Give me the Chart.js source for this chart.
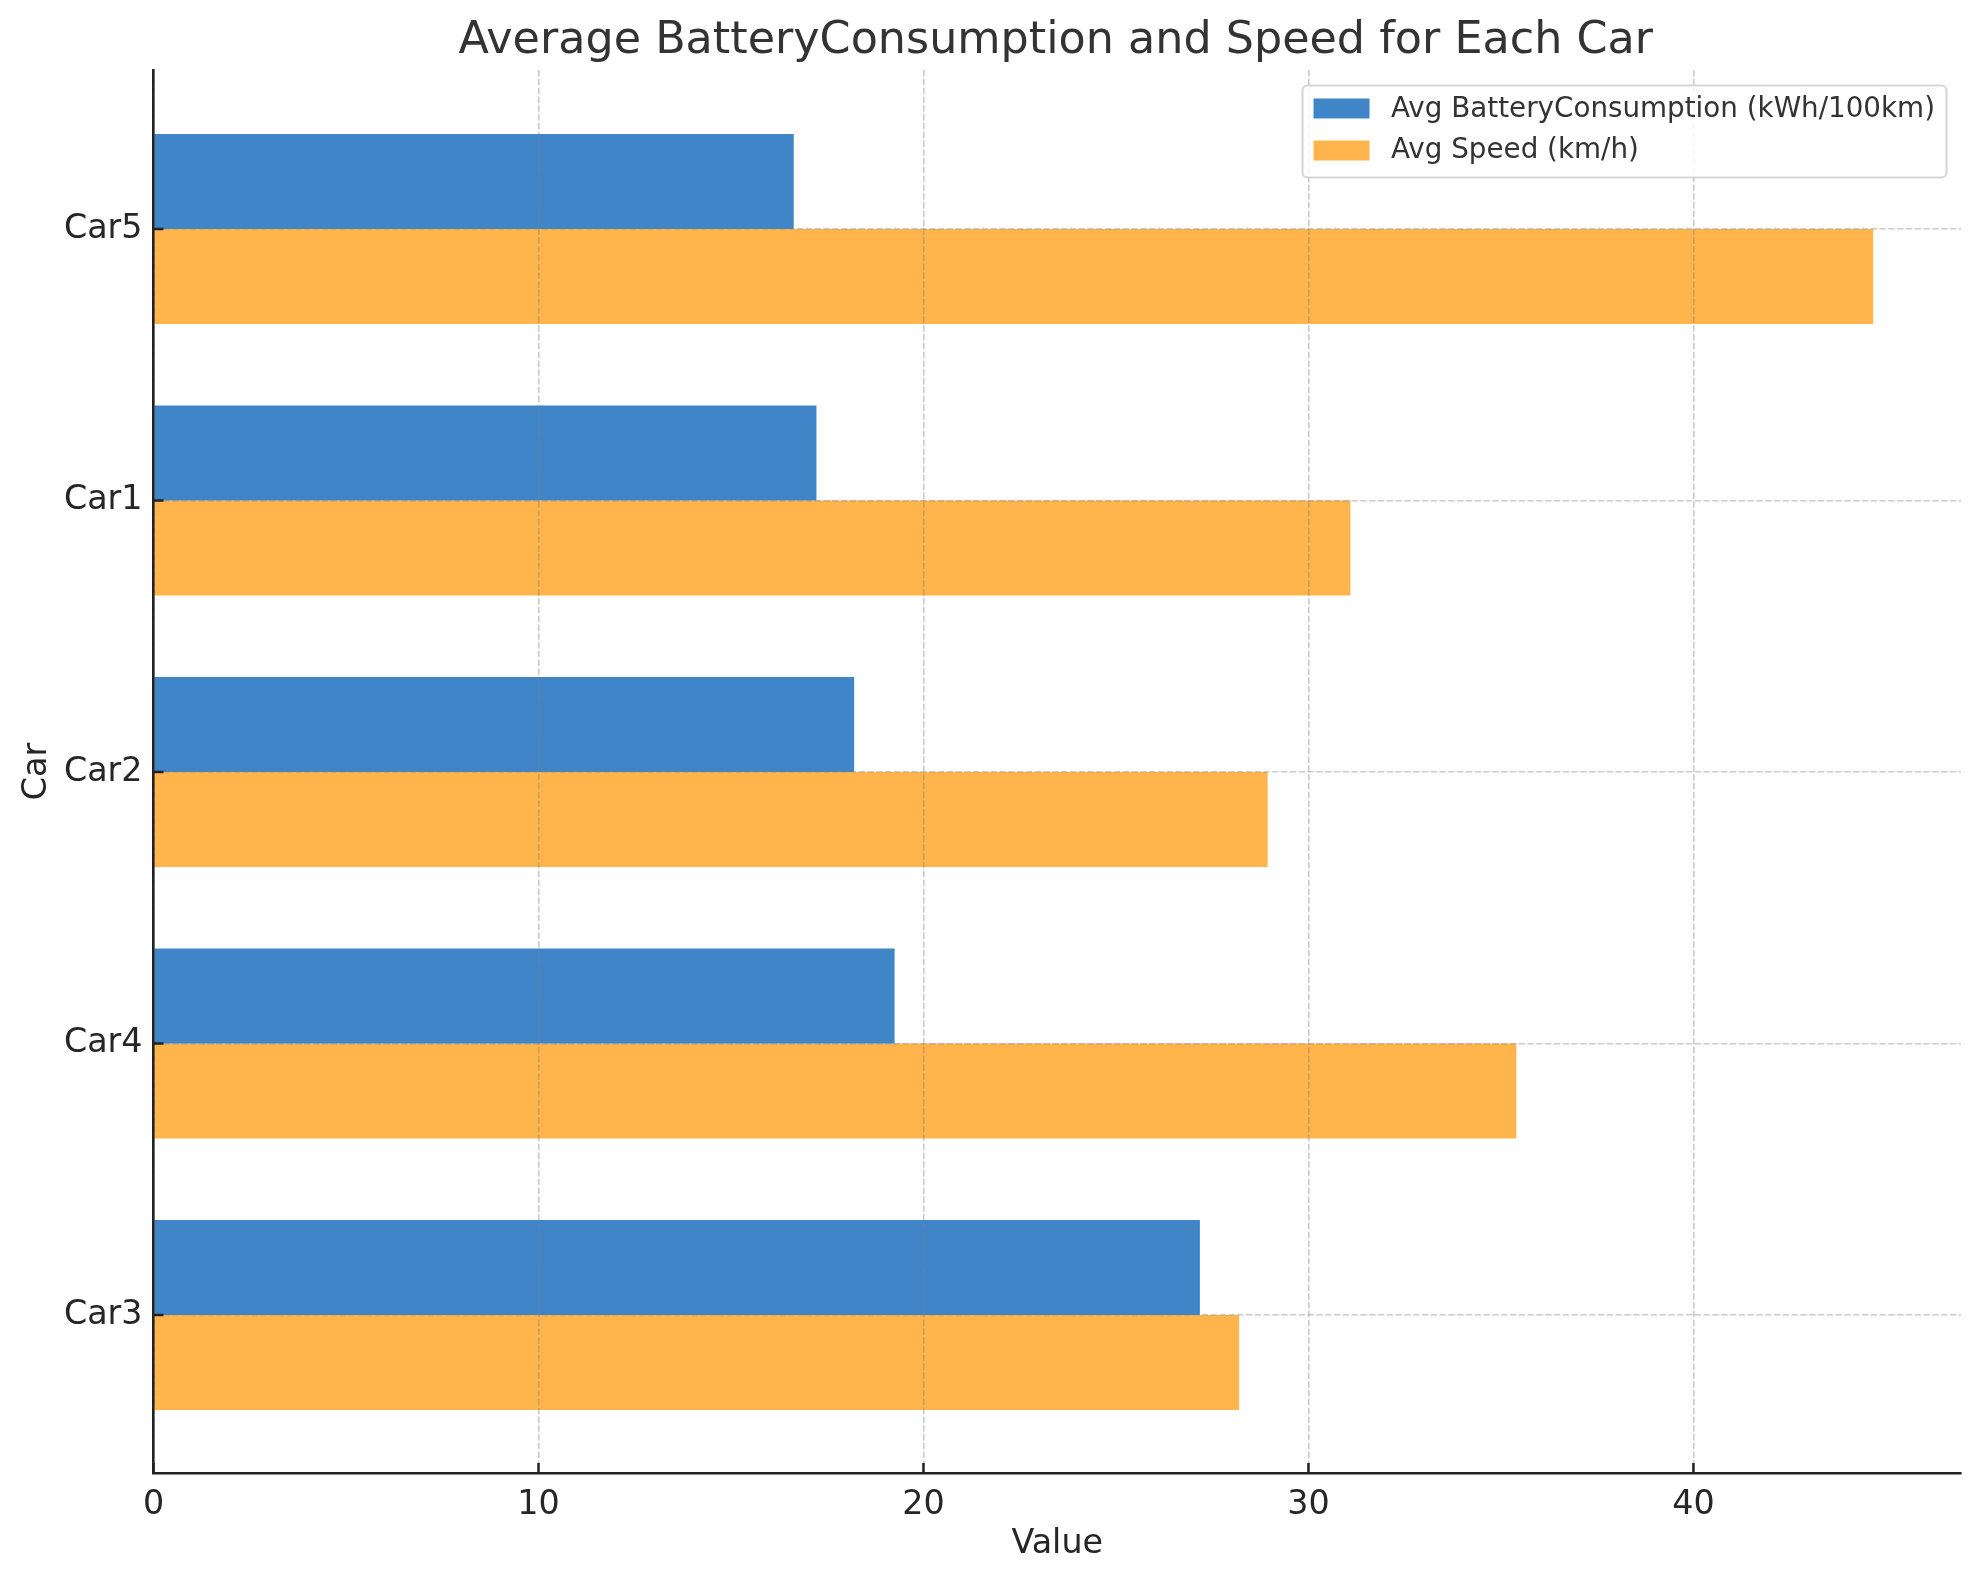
<!DOCTYPE html>
<html>
<head>
<meta charset="utf-8">
<style>html,body{margin:0;padding:0;background:#fff}canvas{display:block}</style>
<script src="https://cdn.jsdelivr.net/npm/chart.js@4"></script>
</head>
<body>
<canvas id="c" width="1979" height="1580" style="width:1979px;height:1580px"></canvas>
<script>
const categories = ['Car5', 'Car1', 'Car2', 'Car4', 'Car3'];
const batteryValues = [16.63, 17.22, 18.2, 19.25, 27.18];
const speedValues = [44.67, 31.09, 28.94, 35.4, 28.2];
const seriesNames = ['Avg BatteryConsumption (kWh/100km)', 'Avg Speed (km/h)'];
const xTicks = [0, 10, 20, 30, 40];
const titleText = 'Average BatteryConsumption and Speed for Each Car';

const FONT = '"DejaVu Sans"';
const BLUE = '#3F85C8', ORANGE = '#FFB54C', SPINE = '#222222', INK = '#262626', SOFT = '#333333';
const GRID = 'rgba(128,128,128,0.4)';
const toPoints = vals => vals.map((v, i) => ({x: v, y: i}));

const frame = {
  id: 'frame',
  beforeLayout(chart) {
    const L = chart.legend;
    if (L && !L._patched) {
      L._patched = true;
      const base = L.draw;
      L.draw = function () {
        const ctx = chart.ctx;
        const w = 644, h = 92, r = 5, ft = this.top + 4;
        ctx.save();
        ctx.beginPath();
        ctx.roundRect(this.left, ft, w, h, r);
        ctx.fillStyle = 'rgba(255,255,255,0.8)';
        ctx.fill();
        ctx.strokeStyle = 'rgba(204,204,204,0.8)';
        ctx.lineWidth = 2.2;
        ctx.stroke();
        const colors = [BLUE, ORANGE];
        colors.forEach((col, i) => {
          ctx.fillStyle = col;
          ctx.fillRect(this.left + 11, ft + 13 + i * 42, 56, 20);
        });
        ctx.restore();
        base.call(this);
      };
      L._layers = function () {
        return [{z: 3, draw(area) { L.draw(area); }}];
      };
    }
  },
  afterLayout(chart) {
    const L = chart.legend;
    L.left = 1302.5; L.top = 81.5; L.right = 1946; L.bottom = 700;
    L.width = L.right - L.left; L.height = L.bottom - L.top;
    const T = chart.titleBlock;
    if (T) { T.left -= 1.5; T.right -= 1.5; }
  },
  afterDraw(chart) {
    const {ctx, scales: {x, y}, chartArea: a} = chart;
    ctx.save();
    ctx.strokeStyle = SPINE;
    ctx.lineWidth = 2.5;
    ctx.beginPath();
    x.ticks.forEach((t, i) => {
      const p = x.getPixelForTick(i);
      ctx.moveTo(p, a.bottom); ctx.lineTo(p, a.bottom - 10);
    });
    y.ticks.forEach((t, i) => {
      const p = y.getPixelForTick(i);
      ctx.moveTo(a.left, p); ctx.lineTo(a.left + 10, p);
    });
    ctx.stroke();
    ctx.restore();
  }
};

new Chart(document.getElementById('c'), {
  type: 'bar',
  data: {
    datasets: [
      {label: seriesNames[0], data: toPoints(batteryValues), backgroundColor: BLUE, borderWidth: 0, categoryPercentage: 0.7, barPercentage: 1},
      {label: seriesNames[1], data: toPoints(speedValues), backgroundColor: ORANGE, borderWidth: 0, categoryPercentage: 0.7, barPercentage: 1}
    ]
  },
  plugins: [frame],
  options: {
    indexAxis: 'y',
    responsive: false,
    animation: false,
    devicePixelRatio: 1,
    layout: {padding: {left: 0, right: 18, top: 0, bottom: 0}},
    plugins: {
      tooltip: {enabled: false},
      title: {
        display: true, text: titleText, color: SOFT, fullSize: false,
        font: {family: FONT, size: 44.44, weight: 'normal'},
        padding: {top: 15, bottom: 1.7}
      },
      legend: {
        display: true, position: 'chartArea', align: 'start',
        labels: {
          color: SOFT, boxWidth: 60.6, boxHeight: 20, padding: 14,
          font: {family: FONT, size: 27.78},
          generateLabels: chart => chart.data.datasets.map((d, i) => ({
            text: d.label, fillStyle: 'rgba(0,0,0,0)', strokeStyle: 'rgba(0,0,0,0)', lineWidth: 0, datasetIndex: i, fontColor: SOFT
          }))
        }
      }
    },
    scales: {
      x: {
        type: 'linear', position: 'bottom', min: 0, max: 46.95,
        afterBuildTicks: s => { s.ticks = xTicks.map(v => ({value: v})); },
        afterFit: s => { s.height = 107; },
        grid: {color: GRID, lineWidth: 1.6, z: 1, drawTicks: false},
        border: {color: SPINE, width: 2.6, z: 2, dash: [6.5, 2.3]},
        ticks: {color: INK, padding: 12, maxRotation: 0, font: {family: FONT, size: 33.33}, includeBounds: false},
        title: {display: true, text: 'Value', color: INK, font: {family: FONT, size: 33.33}, padding: {top: 0, bottom: 16}}
      },
      y: {
        type: 'linear', position: 'left', min: -0.5854, max: 4.582, reverse: true, offset: false,
        afterBuildTicks: s => { s.ticks = categories.map((c, i) => ({value: i})); },
        afterFit: s => { s.width = 153.5; },
        grid: {color: GRID, lineWidth: 1.6, z: 1, drawTicks: false, offset: false},
        border: {color: SPINE, width: 2.6, z: 2, dash: [6.5, 2.3]},
        ticks: {color: INK, padding: 11, font: {family: FONT, size: 33.33}, callback: v => categories[v]},
        title: {display: true, text: 'Car', color: INK, font: {family: FONT, size: 33.33}, padding: {top: 17.5, bottom: 0}}
      }
    }
  }
});
</script>
</body>
</html>
